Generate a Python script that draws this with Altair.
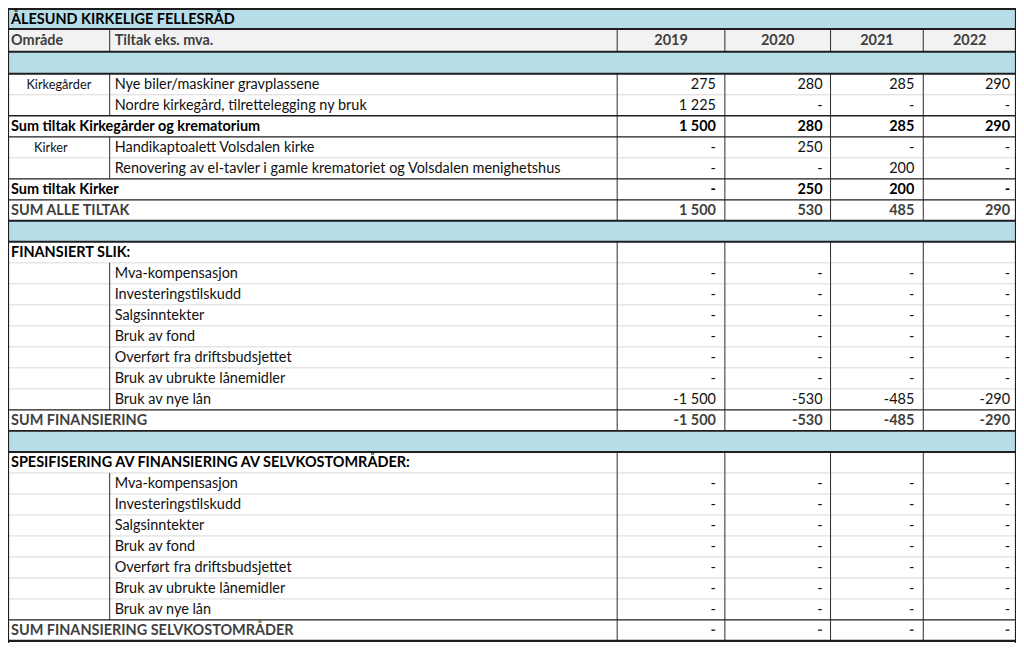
import altair as alt
import pandas as pd

# ---------------- data ----------------
title = "ÅLESUND KIRKELIGE FELLESRÅD"
header_area = "Område"
header_tiltak = "Tiltak eks. mva."
years = ["2019", "2020", "2021", "2022"]

row_kind = ["title", "header", "blue",
            "item", "item", "sum", "item", "item", "sum", "total", "blue",
            "section", "item", "item", "item", "item", "item", "item", "item", "total", "blue",
            "section", "item", "item", "item", "item", "item", "item", "item", "total"]

area_labels = ["", "", "", "Kirkegårder", "", "", "Kirker", "", "", "", "",
               "", "", "", "", "", "", "", "", "", "",
               "", "", "", "", "", "", "", "", ""]

fin_items = ["Mva-kompensasjon", "Investeringstilskudd", "Salgsinntekter", "Bruk av fond",
             "Overført fra driftsbudsjettet", "Bruk av ubrukte lånemidler", "Bruk av nye lån"]

row_labels = ([title, header_tiltak, "",
               "Nye biler/maskiner gravplassene",
               "Nordre kirkegård, tilrettelegging ny bruk",
               "Sum tiltak Kirkegårder og krematorium",
               "Handikaptoalett Volsdalen kirke",
               "Renovering av el-tavler i gamle krematoriet og Volsdalen menighetshus",
               "Sum tiltak Kirker",
               "SUM ALLE TILTAK", "",
               "FINANSIERT SLIK:"] + fin_items +
              ["SUM FINANSIERING", "",
               "SPESIFISERING AV FINANSIERING AV SELVKOSTOMRÅDER:"] + fin_items +
              ["SUM FINANSIERING SELVKOSTOMRÅDER"])

N = None
v2019 = [N, N, N, 275, 1225, 1500, 0, 0, 0, 1500, N,
         N, 0, 0, 0, 0, 0, 0, -1500, -1500, N,
         N, 0, 0, 0, 0, 0, 0, 0, 0]
v2020 = [N, N, N, 280, 0, 280, 250, 0, 250, 530, N,
         N, 0, 0, 0, 0, 0, 0, -530, -530, N,
         N, 0, 0, 0, 0, 0, 0, 0, 0]
v2021 = [N, N, N, 285, 0, 285, 0, 200, 200, 485, N,
         N, 0, 0, 0, 0, 0, 0, -485, -485, N,
         N, 0, 0, 0, 0, 0, 0, 0, 0]
v2022 = [N, N, N, 290, 0, 290, 0, 0, 0, 290, N,
         N, 0, 0, 0, 0, 0, 0, -290, -290, N,
         N, 0, 0, 0, 0, 0, 0, 0, 0]
values = [v2019, v2020, v2021, v2022]

# ---------------- layout (reference pixel units) ----------------
W, H = 1011, 636
X_LEFT, X_RIGHT = 8, 1019
Y_TOP, Y_BOT = 8, 644
col_edges = [8, 110, 619, 727, 833, 926, 1019]
num_anchor = [718, 825, 917, 1013]
area_center = [0, 0, 0, 59, 0, 0, 51]
row_heights = [20, 23, 22] + [21.07] * 27
label_x_wide = 11
label_x_item = 115

BLUE = "#b7dde8"
HEAD = "#f2f2f2"
DARK = "#1e1e1e"
LIGHT = "#d9d9d9"
GREY_TXT = "#3f3f3f"
FONT = "Lato"
FS = 14.5

tops = [Y_TOP]
for h in row_heights:
    tops.append(tops[-1] + h)


def fmt(v):
    if v is None:
        return ""
    if v == 0:
        return "-"
    s = f"{abs(v):,}".replace(",", " ")
    return ("-" if v < 0 else "") + s


xs = alt.Scale(domain=[X_LEFT, X_RIGHT], range=[0, W])
ys = alt.Scale(domain=[Y_TOP, Y_BOT], range=[0, H])

# background rects
bg = []
for r, k in enumerate(row_kind):
    fill = BLUE if k in ("title", "blue") else (HEAD if k == "header" else "#ffffff")
    bg.append(dict(x0=X_LEFT, x1=X_RIGHT, y0=tops[r], y1=tops[r + 1], fill=fill))
bg_df = pd.DataFrame(bg)

# horizontal lines
hl = []
for b in range(len(row_kind) + 1):
    if b == 0 or b == len(row_kind):
        c, w = DARK, 2.2
    else:
        up, lo = row_kind[b - 1], row_kind[b]
        if lo == "item" and up in ("item", "section"):
            c, w = LIGHT, 1
        elif up == "blue" or lo == "blue" or (up == "title"):
            c, w = DARK, 2
        else:
            c, w = DARK, 1.3
    hl.append(dict(x0=X_LEFT, x1=X_RIGHT, y=tops[b], c=c, w=w))
hl_df = pd.DataFrame(hl)

# vertical lines
vl = []
for r, k in enumerate(row_kind):
    if k in ("title", "blue"):
        continue
    edges = col_edges[2:6]
    if k in ("item", "header"):
        edges = [col_edges[1]] + edges
    for e in edges:
        vl.append(dict(x=e, y0=tops[r], y1=tops[r + 1], c="#2a2a2a", w=1))
for e in (X_LEFT, X_RIGHT):
    vl.append(dict(x=e, y0=Y_TOP, y1=Y_BOT, c=DARK, w=2.2))
vl_df = pd.DataFrame(vl)

# texts
txt = []
for r, k in enumerate(row_kind):
    yc = (tops[r] + tops[r + 1]) / 2
    lab = row_labels[r]
    if k == "title":
        txt.append(dict(x=label_x_wide, y=yc, t=lab, style="bold", align="left"))
    elif k == "header":
        txt.append(dict(x=label_x_wide, y=yc, t=header_area, style="boldgrey", align="left"))
        txt.append(dict(x=label_x_item, y=yc, t=lab, style="boldgrey", align="left"))
        for i, yr in enumerate(years):
            txt.append(dict(x=(col_edges[i + 2] + col_edges[i + 3]) / 2, y=yc, t=yr,
                            style="boldgrey", align="center"))
    elif k == "item":
        if area_labels[r]:
            txt.append(dict(x=area_center[r], y=yc, t=area_labels[r], style="small", align="center"))
        txt.append(dict(x=label_x_item, y=yc, t=lab, style="normal", align="left"))
        for i in range(4):
            txt.append(dict(x=num_anchor[i], y=yc, t=fmt(values[i][r]), style="normal", align="right"))
    elif k in ("sum", "section"):
        txt.append(dict(x=label_x_wide, y=yc, t=lab, style="bold", align="left"))
        for i in range(4):
            txt.append(dict(x=num_anchor[i], y=yc, t=fmt(values[i][r]), style="bold", align="right"))
    elif k == "total":
        txt.append(dict(x=label_x_wide, y=yc, t=lab, style="boldgrey", align="left"))
        for i in range(4):
            txt.append(dict(x=num_anchor[i], y=yc, t=fmt(values[i][r]), style="boldgrey", align="right"))
txt_df = pd.DataFrame(txt)

base_rect = alt.Chart(bg_df).mark_rect(strokeWidth=0).encode(
    x=alt.X("x0:Q", scale=xs, axis=None), x2="x1:Q",
    y=alt.Y("y0:Q", scale=ys, axis=None), y2="y1:Q",
    color=alt.Color("fill:N", scale=None, legend=None))

hlines_light = alt.Chart(hl_df).transform_filter(alt.datum.c == LIGHT).mark_rule().encode(
    x=alt.X("x0:Q", scale=xs, axis=None), x2="x1:Q",
    y=alt.Y("y:Q", scale=ys, axis=None),
    color=alt.Color("c:N", scale=None, legend=None),
    strokeWidth=alt.StrokeWidth("w:Q", scale=None, legend=None))

vlines = alt.Chart(vl_df).mark_rule().encode(
    x=alt.X("x:Q", scale=xs, axis=None),
    y=alt.Y("y0:Q", scale=ys, axis=None), y2="y1:Q",
    color=alt.Color("c:N", scale=None, legend=None),
    strokeWidth=alt.StrokeWidth("w:Q", scale=None, legend=None))

hlines_dark = alt.Chart(hl_df).transform_filter(alt.datum.c != LIGHT).mark_rule().encode(
    x=alt.X("x0:Q", scale=xs, axis=None), x2="x1:Q",
    y=alt.Y("y:Q", scale=ys, axis=None),
    color=alt.Color("c:N", scale=None, legend=None),
    strokeWidth=alt.StrokeWidth("w:Q", scale=None, legend=None))

styles = {
    "normal": dict(fontWeight="normal", color="#111111", fontSize=FS),
    "small": dict(fontWeight="normal", color="#111111", fontSize=12.8),
    "bold": dict(fontWeight="bold", color="#000000", fontSize=FS),
    "boldgrey": dict(fontWeight="bold", color=GREY_TXT, fontSize=FS),
}

text_layers = []
for st, props in styles.items():
    for al in ("left", "center", "right"):
        sub = txt_df[(txt_df["style"] == st) & (txt_df["align"] == al)]
        if len(sub) == 0:
            continue
        text_layers.append(
            alt.Chart(sub).mark_text(align=al, baseline="middle", font=FONT, dy=1,
                                     fontSize=props["fontSize"], fontWeight=props["fontWeight"],
                                     color=props["color"]).encode(
                x=alt.X("x:Q", scale=xs, axis=None),
                y=alt.Y("y:Q", scale=ys, axis=None),
                text="t:N"))

chart = alt.layer(base_rect, hlines_light, vlines, hlines_dark, *text_layers).properties(
    width=W, height=H, padding=0, autosize="none", background="#ffffff"
).configure_view(stroke=None)

chart.save("out.html", embed_options={"renderer": "svg", "actions": False})
